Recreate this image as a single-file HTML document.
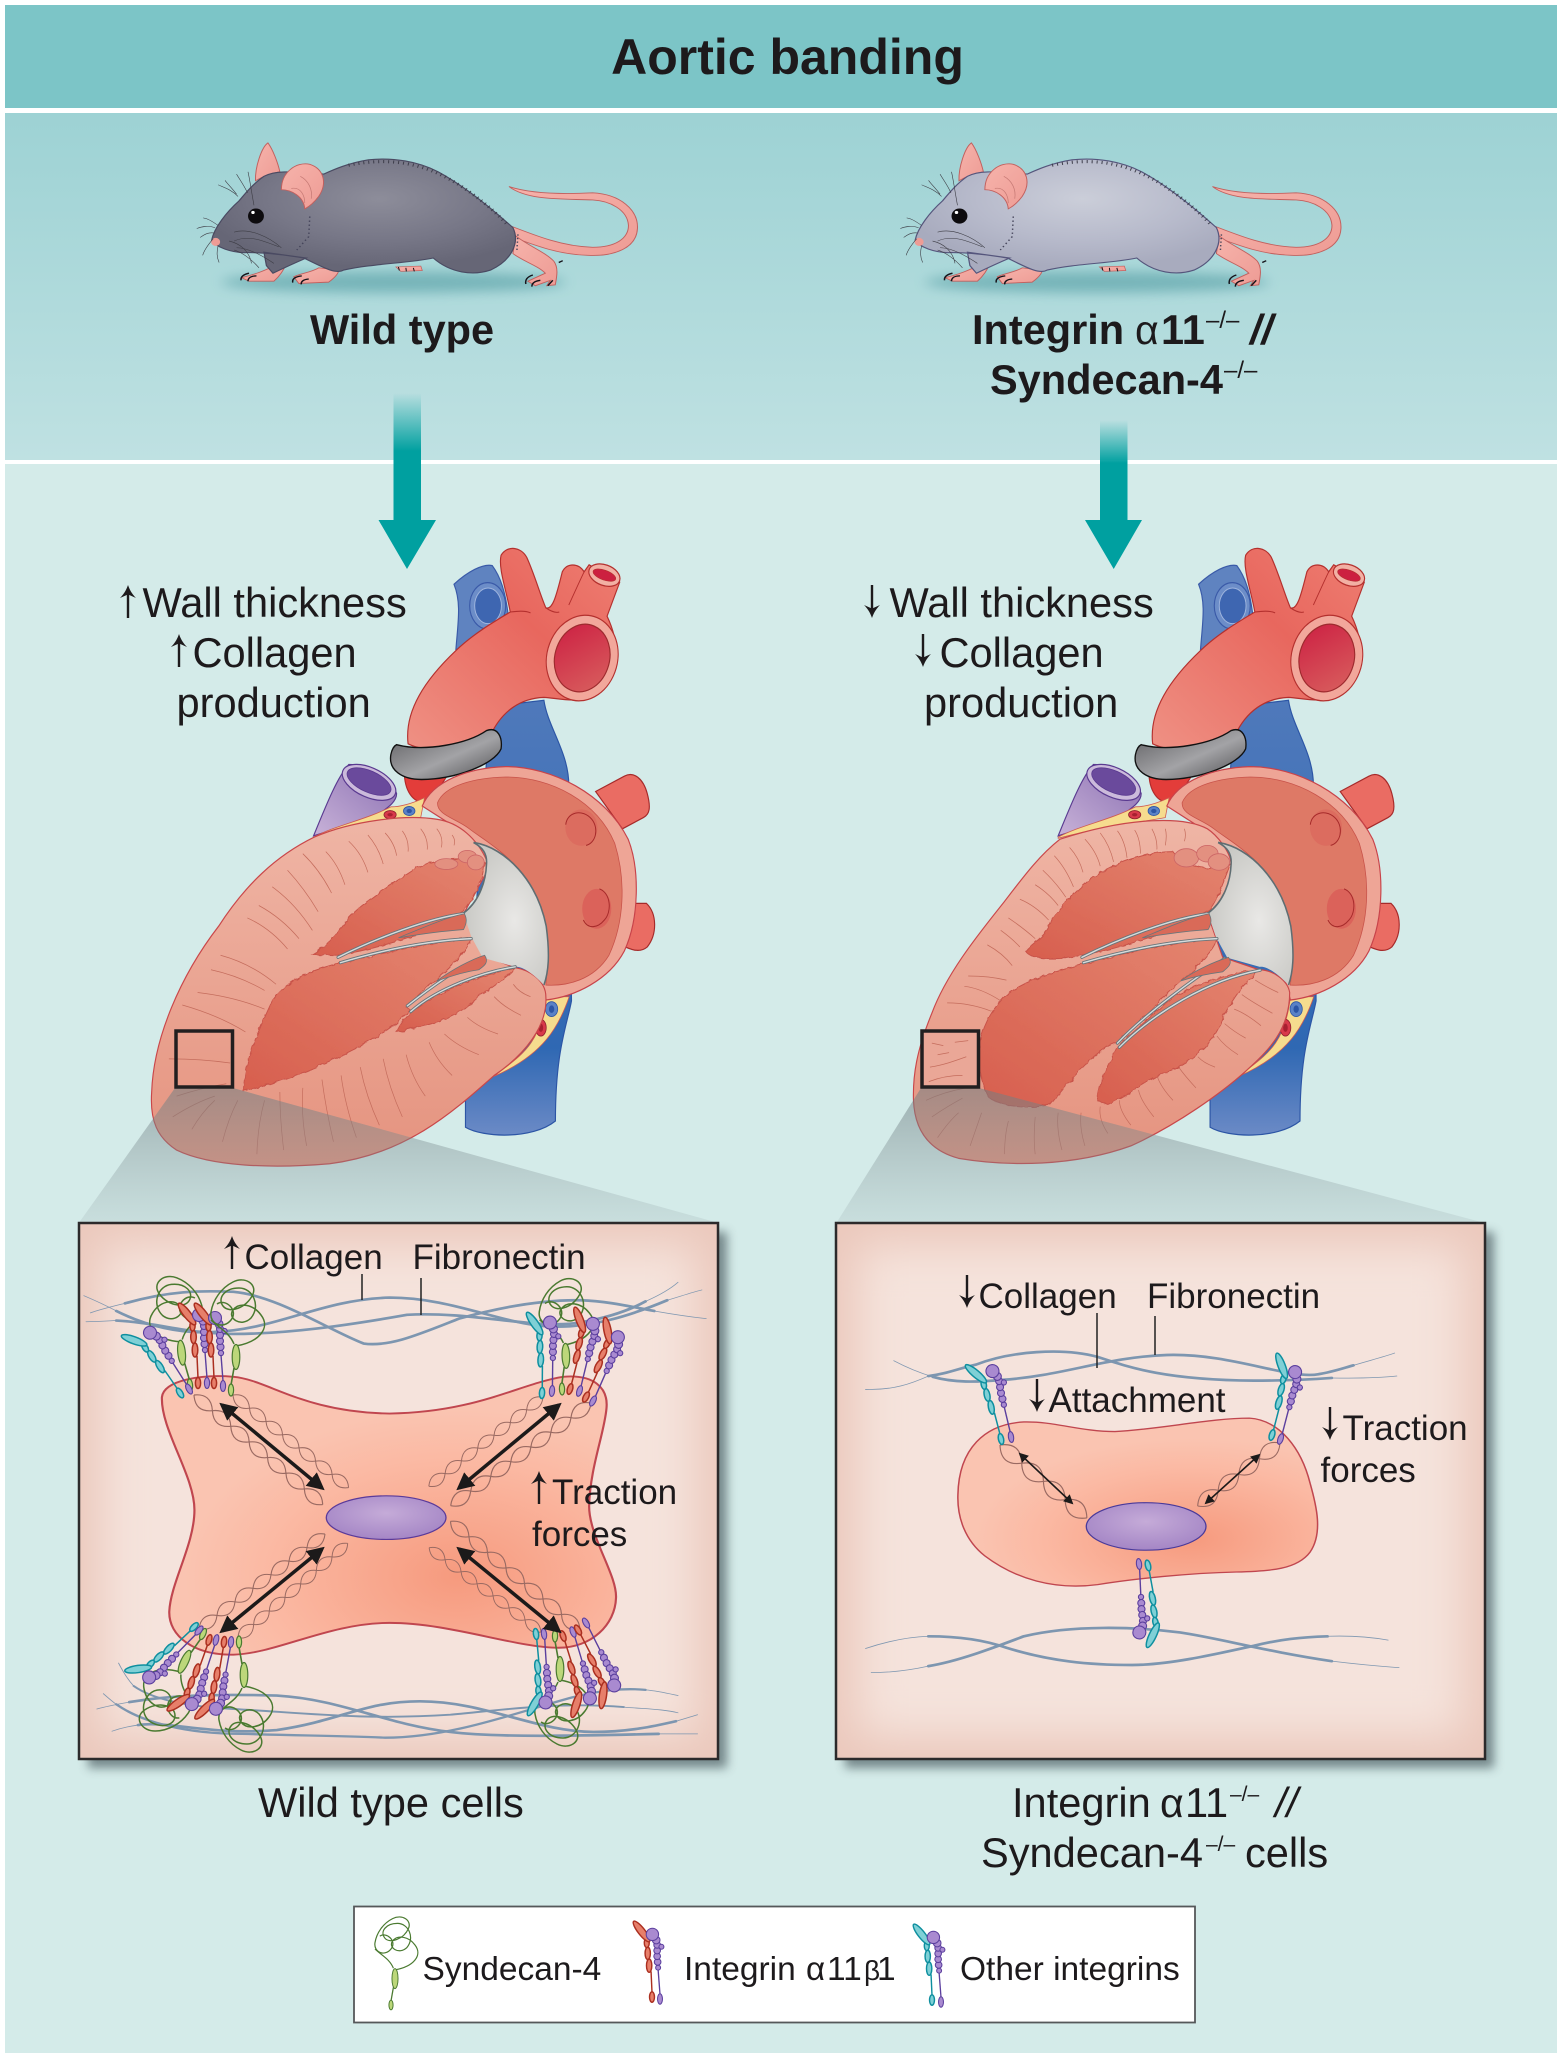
<!DOCTYPE html>
<html><head><meta charset="utf-8"><title>Aortic banding</title>
<style>
html,body{margin:0;padding:0;background:#fff}
svg{display:block}
text{font-family:"Liberation Sans",Arial,sans-serif;fill:#1d1a1c}
.b{font-weight:bold;font-size:41.5px}
.m{font-size:41.6px}
.p{font-size:35px}
.l{font-size:33.5px}
.ab{fill:#e77f6a;stroke:#ab2f20}
.at{fill:#7fd0d6;stroke:#0e8f9f}
.ap{fill:#a98ad0;stroke:#5b3f9e}
.sg{fill:#bcd77a;stroke:#4a7a30}
.fb{fill:none;stroke:#7d96b0;stroke-linecap:round}
.tw{fill:none;stroke:#9a6a62;stroke-width:1.1}
</style></head><body>
<svg xmlns="http://www.w3.org/2000/svg" width="1562" height="2060" viewBox="0 0 1562 2060">
<defs>
<linearGradient id="band2" x1="0" y1="0" x2="0" y2="1"><stop offset="0" stop-color="#9dd2d4"/><stop offset="1" stop-color="#bfe1e2"/></linearGradient>
<linearGradient id="arr1" x1="0" y1="0" x2="0" y2="1"><stop offset="0" stop-color="#00a0a0" stop-opacity="0"/><stop offset="1" stop-color="#00a0a0"/></linearGradient>
<radialGradient id="m1" cx=".55" cy=".35" r=".6"><stop offset="0" stop-color="#8d8d9a"/><stop offset=".6" stop-color="#777787"/><stop offset="1" stop-color="#666676"/></radialGradient>
<radialGradient id="m2" cx=".55" cy=".35" r=".6"><stop offset="0" stop-color="#cbced9"/><stop offset=".6" stop-color="#b7bacb"/><stop offset="1" stop-color="#a8abbe"/></radialGradient>
<linearGradient id="pk" x1="0" y1="0" x2="1" y2="1"><stop offset="0" stop-color="#f6b3ab"/><stop offset="1" stop-color="#ee9c95"/></linearGradient>
<linearGradient id="ao" x1="0" y1="1" x2="1" y2="0"><stop offset="0" stop-color="#ef9184"/><stop offset=".6" stop-color="#e8675e"/><stop offset="1" stop-color="#ee7e72"/></linearGradient>
<linearGradient id="aoi" x1="0" y1="0" x2="1" y2="1"><stop offset="0" stop-color="#cc1e42"/><stop offset="1" stop-color="#d9625f"/></linearGradient>
<linearGradient id="bl" x1="0" y1="0" x2="0" y2="1"><stop offset="0" stop-color="#4f79bb"/><stop offset=".8" stop-color="#2f68b3"/><stop offset="1" stop-color="#6b8ac6"/></linearGradient>
<linearGradient id="bd" x1="0" y1="0" x2="1" y2="1"><stop offset="0" stop-color="#5d5d60"/><stop offset=".55" stop-color="#a3a3a6"/><stop offset="1" stop-color="#4d4d50"/></linearGradient>
<linearGradient id="pur" x1="0" y1="1" x2="1" y2="0"><stop offset="0" stop-color="#c8b2d8"/><stop offset="1" stop-color="#8a6fb2"/></linearGradient>
<linearGradient id="wall" x1="0" y1="0" x2="0" y2="1"><stop offset="0" stop-color="#efb5a5"/><stop offset="1" stop-color="#e5937f"/></linearGradient>
<linearGradient id="cav" x1="0" y1="1" x2="1" y2="0"><stop offset="0" stop-color="#d75f4e"/><stop offset="1" stop-color="#e4846f"/></linearGradient>
<radialGradient id="vlv" cx=".6" cy=".55" r=".6"><stop offset="0" stop-color="#e9e8e6"/><stop offset="1" stop-color="#c9c9c5"/></radialGradient>
<linearGradient id="wedge" x1="0" y1="0" x2="0" y2="1"><stop offset="0" stop-color="#6f7e82" stop-opacity=".55"/><stop offset="1" stop-color="#8a9a9e" stop-opacity=".16"/></linearGradient>
<radialGradient id="cell" cx=".65" cy=".72" r=".6"><stop offset="0" stop-color="#f69a7e"/><stop offset=".7" stop-color="#fbb9a3"/><stop offset="1" stop-color="#fac4b1"/></radialGradient>
<radialGradient id="nuc" cx=".5" cy=".4" r=".65"><stop offset="0" stop-color="#c5abd8"/><stop offset="1" stop-color="#a283c4"/></radialGradient>
<filter id="b3" x="-20%" y="-150%" width="140%" height="400%"><feGaussianBlur stdDeviation="13"/></filter>
<filter id="b8" x="-10%" y="-10%" width="120%" height="120%"><feGaussianBlur stdDeviation="22"/></filter>
<filter id="b6" x="-5%" y="-5%" width="110%" height="110%"><feGaussianBlur stdDeviation="5"/></filter>
<filter id="rough" x="-5%" y="-5%" width="110%" height="110%"><feTurbulence type="fractalNoise" baseFrequency=".06" numOctaves="2" seed="4"/><feDisplacementMap in="SourceGraphic" scale="9"/></filter>
<clipPath id="cpL"><rect x="79" y="1223" width="639" height="536"/></clipPath>
<clipPath id="cpR"><rect x="836" y="1223" width="649" height="536"/></clipPath>
<marker id="ah" viewBox="0 0 10 10" refX="8" refY="5" markerWidth="5" markerHeight="5" orient="auto-start-reverse"><path d="M0,0 L10,5 L0,10 Z" fill="#1c1a1a"/></marker>
<marker id="ah2" viewBox="0 0 10 10" refX="8" refY="5" markerWidth="6" markerHeight="6" orient="auto-start-reverse"><path d="M0,0 L10,5 L0,10 Z" fill="#1c1a1a"/></marker>

<!-- text arrows -->
<g id="up"><path d="M0,0 V-28" stroke="#1d1a1c" stroke-width="2.4" fill="none"/><path d="M0,-33 C-2,-27 -5,-23 -8,-20 L-1.3,-23 H1.3 L8,-20 C5,-23 2,-27 0,-33Z" fill="#1d1a1c"/></g>
<g id="dn"><path d="M0,-33 V-5" stroke="#1d1a1c" stroke-width="2.4" fill="none"/><path d="M0,0 C-2,-6 -5,-10 -8,-13 L-1.3,-10 H1.3 L8,-13 C5,-10 2,-6 0,0Z" fill="#1d1a1c"/></g>

<!-- integrin alpha -->
<g id="ia" stroke-width="1.5">
<path d="M0,-5 L-1,-27" fill="none"/>
<ellipse cx="0" cy="0" rx="2.6" ry="5.5"/>
<ellipse cx="-3" cy="-33" rx="2.8" ry="7"/>
<ellipse cx="-4.5" cy="-46" rx="2.8" ry="6.5"/>
<ellipse cx="-5.5" cy="-57" rx="2.6" ry="5"/>
<ellipse cx="-11" cy="-69" rx="3.6" ry="13.5" transform="rotate(-38 -11 -69)"/>
</g>
<!-- integrin beta -->
<g id="ib" stroke-width="1.1">
<path d="M0,-5 L-2,-31" fill="none" stroke-width="1.4"/>
<ellipse cx="0" cy="0" rx="2.6" ry="5.5"/>
<circle cx="-2" cy="-33" r="2.6"/><circle cx="-2.5" cy="-39" r="3.5"/><circle cx="-3" cy="-45" r="3.5"/><circle cx="-3" cy="-51" r="3.5"/><circle cx="-3" cy="-57" r="3.5"/><circle cx="1.5" cy="-55" r="2.6"/><circle cx="-4" cy="-62" r="4"/>
<circle cx="-8" cy="-68" r="6.5"/>
</g>
<!-- syndecan -->
<g id="sy">
<path d="M5,-44 C28,-48 40,-62 30,-75 C22,-86 8,-88 2,-80 C-4,-72 10,-62 20,-72 C30,-84 22,-102 8,-102 C-6,-102 -14,-92 -8,-84 C-2,-76 16,-82 22,-96 C26,-106 14,-114 2,-108 C-10,-102 -18,-90 -20,-78 C-22,-66 -8,-60 0,-70 C8,-80 -6,-92 -14,-86 M3,-46 C-2,-58 -12,-62 -20,-70" fill="none" stroke="#4a7a30" stroke-width="1.5"/>
<path d="M0,-5 L3,-22" fill="none" stroke="#4a7a30" stroke-width="1.6"/>
<ellipse cx="0" cy="0" rx="2.6" ry="6" class="sg" stroke-width="1.2"/>
<ellipse cx="5" cy="-33" rx="3.8" ry="12.5" class="sg" stroke-width="1.2"/>
</g>
<!-- twisted strand, 161 long -->
<g id="tw" class="tw">
<path d="M0,0 q11.500,-12 23,0 t23,0 t23,0 t23,0 t23,0 t23,0 t23,0"/>
<path d="M0,0 q11.500,12 23,0 t23,0 t23,0 t23,0 t23,0 t23,0 t23,0"/>
</g>
<g id="tw2" class="tw">
<path d="M0,0 q13.500,-15 27,0 t27,0 t27,0 t27,0"/>
<path d="M0,0 q13.500,15 27,0 t27,0 t27,0 t27,0"/>
</g>

<!-- mouse pieces (zoom coordinates) -->
<path id="mbody" d="M425,538 C430,510 455,475 480,450 C495,430 510,410 530,395 C555,380 590,385 650,390 C670,380 700,365 740,358 C790,352 840,362 880,385 C930,415 985,465 1030,510 C1045,545 1025,585 985,605 C950,618 905,612 870,578 C820,590 750,590 690,605 C675,615 650,600 610,578 C580,572 530,565 490,566 C465,565 435,555 425,538Z M530,565 L615,578 C590,590 565,603 548,612 L535,595Z"/>
<g id="mfix">
<ellipse cx="790" cy="632" rx="345" ry="24" fill="#6daeb3" opacity=".85" filter="url(#b3)"/>
<path d="M1018,503 C1080,530 1130,552 1190,554 C1235,554 1262,535 1262,505 C1260,470 1225,450 1190,448 C1130,445 1060,450 1022,418 C1060,432 1120,436 1190,432 C1245,435 1282,470 1280,512 C1278,555 1235,575 1180,572 C1120,570 1075,550 1014,525Z" fill="url(#pk)" stroke="#c2605e" stroke-width="2"/>
<path d="M1035,528 C1060,550 1095,565 1112,585 C1122,600 1118,620 1115,638 L1098,640 L1105,628 L1075,640 L1060,630 L1095,612 C1080,595 1050,585 1030,568Z" fill="url(#pk)" stroke="#c2605e" stroke-width="2"/>
<path d="M795,598 L845,596 L848,606 L805,608Z" fill="url(#pk)" stroke="#c2605e" stroke-width="1.5"/>
<path d="M513,405 C512,375 525,330 538,320 C548,335 558,365 562,385 C545,388 528,395 513,405Z" fill="url(#pk)" stroke="#c2605e" stroke-width="2"/>
<path d="M560,590 C530,608 510,615 485,622 L500,630 L550,630 C560,620 570,605 575,590Z" fill="url(#pk)" stroke="#c2605e" stroke-width="2"/>
<path d="M640,600 C625,610 605,612 590,620 L600,635 L660,632 C672,622 680,612 680,605Z" fill="url(#pk)" stroke="#c2605e" stroke-width="2"/>
</g>
<g id="mdet">
<path d="M565,425 C565,385 595,362 622,368 C650,378 658,410 640,440 C630,455 622,462 612,468 C610,440 585,425 565,425Z" fill="url(#pk)" stroke="#c2605e" stroke-width="2"/>
<path d="M585,422 C605,418 612,440 612,455 M603,395 C620,405 628,425 625,445" fill="none" stroke="#c77a75" stroke-width="1.5"/>
<ellipse cx="514" cy="484" rx="16" ry="17" fill="#0d0b0e"/><circle cx="508" cy="476" r="3.5" fill="#fff"/>
<circle cx="433" cy="542" r="9" fill="#ee9c95"/>
<path d="M700,370 C790,350 860,368 930,420 C970,450 1000,480 1020,505" fill="none" stroke="#3d3d4a" stroke-width="7" stroke-dasharray="2 8"/>
<path d="M622,485 L620,530 L596,560" fill="none" stroke="#44445a" stroke-width="3" stroke-dasharray="3 6"/>
<path d="M1040,525 L1038,560" fill="none" stroke="#44445a" stroke-width="3" stroke-dasharray="3 5"/>
<g fill="none" stroke="#3c3c44" stroke-width="1.2">
<path d="M478,440 C465,425 450,420 438,414 M475,435 C465,420 455,410 452,404 M497,432 C490,415 480,400 475,390 M510,460 C505,430 502,405 498,385"/>
<path d="M438,505 C425,495 418,490 408,488 M432,510 C420,505 405,507 395,512 M430,522 C420,520 410,525 402,532 M428,535 C418,548 410,560 407,572"/>
<path d="M470,520 C500,510 540,530 565,555 M470,540 C500,525 530,540 560,553 M460,540 C480,545 500,560 505,590 M475,555 C500,555 530,575 550,590 M470,560 C485,565 505,580 520,600 M438,550 C435,565 435,575 440,588"/>
</g>
<g fill="none" stroke="#15131a" stroke-width="3">
<path d="M500,612 C488,615 483,620 484,628 M515,618 C505,618 498,622 498,630 M606,618 C592,620 586,625 588,633 M620,625 C610,626 604,630 605,637 M1070,616 C1058,620 1054,628 1056,636 M1085,628 C1072,630 1068,635 1068,642 M1122,588 L1130,584 M1110,628 L1100,640"/>
<path d="M800,598 L802,606 M815,600 L816,608 M830,600 L832,608" stroke-width="2"/>
</g>
</g>

<!-- heart common -->
<g id="hc">
<path d="M1020,450 L1160,435 C1170,500 1225,560 1225,640 L1232,1160 C1220,1220 1190,1280 1190,1450 C1130,1495 1000,1490 955,1465 L955,1300 Z" fill="url(#bl)" stroke="#2c55a5" stroke-width="3"/>
<path d="M925,155 C960,125 1000,105 1025,110 C1045,135 1060,170 1068,240 L1040,290 L930,312 C935,250 945,200 925,155Z" fill="#5f83c0" stroke="#3a5aa8" stroke-width="3"/>
<ellipse cx="1013" cy="207" rx="47" ry="56" fill="#6c8dc8" stroke="#3a5aa8" stroke-width="3"/>
<ellipse cx="1014" cy="207" rx="35" ry="43" fill="#3e66b1" stroke="#9fb5de" stroke-width="2.5"/>
<!-- aorta -->
<path d="M795,605 C795,650 815,688 862,682 L905,620Z" fill="#e33d3a" stroke="#b22a2a" stroke-width="3"/>
<path d="M805,540 C795,460 850,385 930,315 C975,275 1030,245 1072,222 C1062,170 1040,115 1048,85 C1065,60 1100,65 1115,90 C1135,130 1150,180 1165,212 C1182,218 1192,185 1208,125 C1220,103 1250,103 1265,125 L1278,108 L1358,150 L1325,232 C1360,300 1360,380 1300,420 C1250,445 1200,430 1160,428 C1100,430 1050,460 1020,520 C960,555 860,565 805,540Z" fill="url(#ao)" stroke="#b4302e" stroke-width="3"/>
<path d="M1265,125 C1252,150 1240,175 1225,205" fill="none" stroke="#b4302e" stroke-width="2.5"/>
<path d="M1072,222 C1090,220 1110,218 1125,224 M1165,212 C1178,220 1190,225 1200,222" fill="none" stroke="#b4302e" stroke-width="2.5"/>
<ellipse cx="1318" cy="133" rx="42" ry="25" transform="rotate(18 1318 133)" fill="#f2b0a4" stroke="#b4302e" stroke-width="3"/>
<ellipse cx="1318" cy="133" rx="31" ry="12" transform="rotate(18 1318 133)" fill="#cc2040" stroke="#b4302e" stroke-width="1.5"/>
<ellipse cx="1260" cy="333" rx="92" ry="105" transform="rotate(22 1260 333)" fill="#f2a79b" stroke="#b4302e" stroke-width="3"/>
<ellipse cx="1260" cy="333" rx="71" ry="83" transform="rotate(22 1260 333)" fill="url(#aoi)" stroke="#9e2a2e" stroke-width="3"/>
<!-- band -->
<path d="M775,542 C850,560 960,540 1010,508 C1040,498 1052,525 1048,552 C1030,590 930,625 840,626 C790,626 753,604 760,566 C763,552 768,545 775,542Z" fill="url(#bd)" stroke="#111" stroke-width="3.5"/>
<!-- purple pulmonary -->
<path d="M558,762 C590,690 620,620 650,590 C700,590 760,620 775,660 C775,680 750,695 735,705 L600,750Z" fill="url(#pur)" stroke="#5a3a90" stroke-width="3"/>
<ellipse cx="703" cy="633" rx="74" ry="36" transform="rotate(22 703 633)" fill="#cbbadb" stroke="#5a3a90" stroke-width="3"/>
<ellipse cx="703" cy="631" rx="61" ry="26" transform="rotate(22 703 631)" fill="#6a4a9c" stroke="#5a3a90" stroke-width="2"/>
<!-- veins -->
<path d="M1295,655 L1370,618 C1395,605 1420,625 1430,660 C1440,695 1436,710 1420,718 L1365,745Z" fill="#ea6c63" stroke="#a62a2a" stroke-width="3"/>
<path d="M1385,925 L1428,925 C1456,950 1456,1000 1430,1030 C1410,1046 1385,1036 1360,1025Z" fill="#ea6c63" stroke="#a62a2a" stroke-width="3"/>
<!-- fat -->
<path d="M558,765 C620,735 690,725 760,692 C790,692 820,682 848,670 L838,718 C780,728 680,738 558,768Z" fill="#f6dc8e" stroke="#cf5a52" stroke-width="2"/>
<ellipse cx="758" cy="711" rx="16" ry="10" fill="#d8394a" stroke="#8e1f2c" stroke-width="2"/><ellipse cx="758" cy="711" rx="7" ry="4" fill="#a82030"/>
<ellipse cx="808" cy="702" rx="15" ry="11" fill="#5a82c6" stroke="#2c55a5" stroke-width="2"/><ellipse cx="808" cy="702" rx="7" ry="5" fill="#2c55a5"/>
<path d="M1030,1342 C1100,1290 1150,1270 1165,1150 L1226,1150 C1200,1220 1160,1290 1030,1342Z" fill="#f6dc8e" stroke="#cf5a52" stroke-width="2"/>
<ellipse cx="1180" cy="1180" rx="16" ry="18" fill="#5a82c6" stroke="#2c55a5" stroke-width="2"/><ellipse cx="1180" cy="1180" rx="7" ry="9" fill="#2c55a5"/>
<ellipse cx="1152" cy="1225" rx="14" ry="20" fill="#d8394a" stroke="#8e1f2c" stroke-width="2"/><ellipse cx="1152" cy="1225" rx="6" ry="10" fill="#a82030"/>
<!-- atrium -->
<path d="M842,690 C870,630 960,598 1060,595 C1180,595 1320,660 1380,770 C1410,840 1410,960 1370,1040 C1330,1110 1240,1150 1165,1158 L1120,1000 L960,760Z" fill="#eea596" stroke="#c8434a" stroke-width="3"/>
<path d="M882,682 C900,640 980,622 1060,620 C1180,620 1300,680 1345,780 C1375,870 1370,970 1330,1050 C1290,1110 1220,1125 1165,1122 C1175,1030 1170,940 1110,860 C1060,800 1000,770 965,745 C930,720 880,712 882,682Z" fill="#de7966" stroke="#c8534a" stroke-width="2"/>
<ellipse cx="1258" cy="742" rx="42" ry="44" fill="#d95f57" opacity=".5"/>
<path d="M1217,735 C1220,705 1260,695 1285,722 C1305,745 1295,780 1270,785" fill="none" stroke="#a62a2a" stroke-width="2.5"/>
<ellipse cx="1298" cy="938" rx="38" ry="48" fill="#d95050" opacity=".55"/>
<path d="M1305,890 C1335,900 1338,945 1318,965 C1300,985 1275,988 1263,965" fill="none" stroke="#a62a2a" stroke-width="2.5"/>
</g>
<g id="hv">
<path d="M976,778 C1060,790 1142,870 1166,980 C1176,1050 1172,1090 1160,1122 C1130,1092 1100,1075 1085,1078 L1000,1056 L970,1005 L950,950 C990,920 1010,870 1010,825 C1010,802 995,788 976,778Z" fill="url(#vlv)"/>
<path d="M976,778 C1060,790 1142,870 1166,980 C1176,1050 1172,1090 1160,1122" fill="none" stroke="#5f6d72" stroke-width="4"/>
<path d="M976,778 C1000,790 1012,805 1010,830 C1008,880 985,925 950,948" fill="none" stroke="#5f6d72" stroke-width="4"/>
</g>
</defs>

<!-- bands -->
<rect width="1562" height="2060" fill="#fff"/>
<rect x="5" y="5" width="1552" height="103" fill="#7cc5c7"/>
<rect x="5" y="113" width="1552" height="347" fill="url(#band2)"/>
<rect x="5" y="464" width="1552" height="1589" fill="#d4ebe9"/>

<text x="787.5" y="74" text-anchor="middle" font-weight="bold" font-size="50">Aortic banding</text>

<!-- left mouse -->
<g transform="scale(.498,.4464)">
<use href="#mfix"/>
<use href="#mbody" fill="url(#m1)" stroke="#4a4a62" stroke-width="2.5"/>
<use href="#mdet"/>
</g>
<!-- right mouse -->
<g transform="translate(703.5,0) scale(.498,.4464)">
<use href="#mfix"/>
<use href="#mbody" fill="url(#m2)" stroke="#55557c" stroke-width="2.5"/>
<use href="#mdet"/>
</g>

<text class="b" x="310" y="344">Wild type</text>
<text class="b" x="972" y="344">Integrin</text>
<text x="1135" y="344" font-size="41" font-family="Liberation Serif">α</text>
<text class="b" x="1161" y="344">11</text>
<text x="1206" y="328" font-size="24">–/–</text>
<text class="b" x="1250" y="344" font-style="italic">//</text>
<text class="b" x="990" y="394">Syndecan-4</text>
<text x="1224" y="378" font-size="24">–/–</text>

<!-- teal arrows -->
<rect x="393.5" y="393" width="27.5" height="58" fill="url(#arr1)"/>
<path d="M393.5,451 H421 V520 H436 L407,569 L378.5,520 H393.5Z" fill="#00a0a0"/>
<rect x="1100" y="420" width="27.5" height="43" fill="url(#arr1)"/>
<path d="M1100,463 H1127.500 V520 H1142 L1113.700,569 L1085,520 H1100Z" fill="#00a0a0"/>

<!-- side texts -->
<use href="#up" x="128" y="618"/><text class="m" x="142.500" y="617">Wall thickness</text>
<use href="#up" x="179" y="667"/><text class="m" x="192.500" y="667">Collagen</text>
<text class="m" x="176.500" y="717">production</text>
<use href="#dn" x="872" y="618"/><text class="m" x="889.500" y="617">Wall thickness</text>
<use href="#dn" x="923" y="667"/><text class="m" x="939.500" y="667">Collagen</text>
<text class="m" x="924" y="717">production</text>

<!-- LEFT HEART -->
<g transform="translate(100,520) scale(.3827,.4145)">
<use href="#hc"/>
<path d="M560,765 C660,725 800,710 880,722 C940,730 985,770 1010,820 L1010,850 L950,950 L1000,1050 L1085,1080 C1120,1085 1165,1110 1165,1150 C1170,1220 1110,1290 1030,1340 C920,1430 800,1530 600,1553 C450,1565 290,1560 200,1520 C150,1490 130,1450 135,1380 C140,1250 210,1100 310,980 C380,880 460,810 560,765Z" fill="url(#wall)" stroke="#c9474a" stroke-width="3"/>
<path fill="none" stroke="#c46c5c" stroke-width="1.8" d="M590,800Q622,830 640,880 M650,775Q685,805 700,850 M700,760Q728,790 740,830 M745,755Q770,780 775,810 M790,750Q808,772 805,800 M838,745Q858,768 855,795 M880,745Q898,765 892,790 M920,760Q930,772 925,785 M530,805Q575,845 605,900 M490,845Q535,890 570,945 M450,885Q510,925 555,990 M415,930Q475,960 520,1010 M385,960Q445,985 490,1035 M315,1050Q395,1070 460,1120 M290,1085Q365,1100 430,1135 M255,1140Q350,1150 430,1180 M215,1170Q310,1195 380,1235 M180,1300Q265,1300 340,1310 M200,1390Q265,1370 330,1360 M190,1440Q250,1405 300,1390 M240,1470Q265,1430 300,1400 M320,1500Q335,1445 360,1400 M410,1530Q412,1460 430,1400 M480,1520Q470,1445 470,1380 M540,1510Q525,1440 530,1370 M610,1500Q590,1420 580,1350 M670,1490Q640,1410 630,1340 M730,1460Q695,1390 680,1320 M790,1440Q755,1370 740,1300 M850,1390Q815,1345 800,1290 M920,1340Q880,1305 860,1260 M990,1290Q935,1270 900,1240 M1040,1240Q990,1225 960,1200 M1100,1195Q1055,1175 1030,1150 M1125,1150Q1095,1140 1080,1120"/>
<g filter="url(#rough)" stroke="#c8534a" stroke-width="2.5">
<path d="M555,1048 C590,1030 620,1000 650,960 C690,920 760,880 830,838 C880,815 960,812 1005,825 C1000,880 970,920 950,945 C880,985 760,1030 620,1050Z" fill="url(#cav)"/>
<path d="M375,1372 C380,1300 410,1240 450,1160 C490,1110 540,1090 620,1070 C720,1050 850,1020 970,1008 C960,1040 920,1080 850,1130 L800,1175 L810,1180 C760,1240 640,1290 540,1330 C480,1350 420,1370 375,1378Z" fill="url(#cav)"/>
<path d="M775,1235 C800,1180 900,1120 1085,1080 C1060,1110 1000,1140 950,1180 C890,1215 830,1225 775,1235Z" fill="url(#cav)"/>
</g>
<use href="#hv"/>
<ellipse cx="905" cy="830" rx="30" ry="13" fill="#e39080" stroke="#c66" stroke-width="2"/>
<ellipse cx="960" cy="812" rx="24" ry="15" fill="#e39080" stroke="#c66" stroke-width="2"/>
<ellipse cx="982" cy="826" rx="22" ry="18" fill="#e39080" stroke="#c66" stroke-width="2"/>
<g fill="none" stroke="#69757a" stroke-width="8" stroke-linecap="round">
<path d="M622,1055 C720,1010 860,960 950,950"/><path d="M628,1068 C730,1040 850,1015 970,1010"/>
<path d="M803,1172 C860,1130 950,1070 1000,1055"/><path d="M812,1186 C880,1130 1000,1090 1085,1078"/>
</g>
<g fill="none" stroke="#d6dbdb" stroke-width="3.500" stroke-linecap="round">
<path d="M622,1055 C720,1010 860,960 950,950"/><path d="M628,1068 C730,1040 850,1015 970,1010"/>
<path d="M803,1172 C860,1130 950,1070 1000,1055"/><path d="M812,1186 C880,1130 1000,1090 1085,1078"/>
</g>
<path d="M780,1008 C840,985 900,960 952,950 C962,965 955,978 950,988 C890,992 830,1000 780,1008Z" fill="#d96a58" stroke="#69757a" stroke-width="2"/>
<path d="M880,1112 C920,1085 970,1060 1005,1050 C1018,1068 1003,1076 990,1085 C950,1090 920,1100 880,1112Z" fill="#d96a58" stroke="#69757a" stroke-width="2"/>
</g>

<!-- RIGHT HEART -->
<g transform="translate(840,520) scale(.3827,.4145)">
<use href="#hc" transform="translate(12,0)"/>
<path d="M575,770 C520,810 480,860 430,920 C370,990 280,1090 240,1190 C200,1280 190,1340 192,1400 C195,1470 230,1520 310,1540 C440,1560 610,1560 760,1510 C880,1460 1000,1380 1060,1330 C1120,1280 1175,1230 1175,1140 C1170,1110 1130,1085 1095,1085 L1000,1055 L960,950 C1000,920 1020,880 1022,830 C1020,800 985,760 960,745 C900,715 760,715 575,770Z" fill="url(#wall)" stroke="#c9474a" stroke-width="3"/>
<path fill="none" stroke="#c46c5c" stroke-width="1.8" d="M600,790Q625,815 635,850 M640,770Q670,800 680,835 M680,755Q705,785 715,825 M725,750Q745,775 750,815 M770,748Q785,770 785,805 M815,745Q830,770 828,795 M850,745Q855,760 850,785 M900,745Q905,760 900,775 M560,810Q590,840 610,885 M530,845Q565,875 590,910 M510,880Q545,900 570,930 M470,915Q510,930 545,965 M440,960Q480,985 510,1010 M420,990Q450,1010 470,1030 M385,1025Q425,1045 450,1075 M335,1100Q390,1100 435,1110 M325,1125Q370,1130 420,1160 M280,1165Q340,1165 395,1185 M240,1300Q260,1285 290,1280 M225,1400Q270,1380 330,1370 M240,1440Q280,1415 320,1395 M255,1490Q285,1450 310,1430 M340,1510Q355,1470 370,1430 M430,1530Q430,1485 440,1450 M510,1530Q505,1490 510,1440 M580,1520Q565,1470 570,1430 M640,1510Q625,1465 630,1430 M700,1480Q675,1445 680,1415 M760,1460Q730,1425 730,1400 M820,1440Q785,1400 780,1375 M870,1400Q840,1370 830,1345 M930,1370Q900,1340 885,1320 M980,1320Q950,1310 935,1295 M1040,1290Q1005,1270 985,1245 M1060,1250Q1030,1235 1005,1215 M1100,1220Q1060,1190 1030,1180 M1130,1190Q1080,1165 1050,1145 M1145,1140Q1110,1125 1085,1110"/>
<g filter="url(#rough)" stroke="#c8534a" stroke-width="2.5">
<path d="M485,1040 C500,1020 540,1010 555,960 C590,920 630,880 680,850 C760,810 830,800 870,800 C900,840 980,850 1020,830 C1000,880 980,930 960,945 C880,985 760,1030 630,1050 C590,1060 500,1065 485,1040Z" fill="url(#cav)"/>
<path d="M365,1260 C380,1200 410,1170 430,1150 C480,1110 560,1090 640,1070 C720,1050 850,1020 985,1008 C980,1040 920,1090 870,1130 L725,1260 C680,1270 620,1330 550,1410 C500,1420 440,1420 390,1395 C370,1360 355,1310 365,1260Z" fill="url(#cav)"/>
<path d="M672,1400 C680,1340 710,1300 725,1270 L870,1150 C950,1110 1040,1090 1100,1085 C1060,1110 1030,1150 1000,1200 C980,1260 930,1300 860,1330 C800,1350 750,1390 700,1410Z" fill="url(#cav)"/>
</g>
<use href="#hv" transform="translate(12,0)"/>
<ellipse cx="905" cy="815" rx="32" ry="22" fill="#e39080" stroke="#c66" stroke-width="2"/>
<ellipse cx="960" cy="805" rx="28" ry="20" fill="#e39080" stroke="#c66" stroke-width="2"/>
<ellipse cx="990" cy="825" rx="28" ry="20" fill="#e39080" stroke="#c66" stroke-width="2"/>
<g fill="none" stroke="#69757a" stroke-width="8" stroke-linecap="round">
<path d="M632,1055 C730,1010 870,960 962,950"/><path d="M636,1068 C740,1040 860,1015 985,1010"/>
<path d="M725,1262 C800,1190 920,1110 1005,1058"/><path d="M730,1272 C820,1190 960,1110 1098,1086"/>
</g>
<g fill="none" stroke="#d6dbdb" stroke-width="3.500" stroke-linecap="round">
<path d="M632,1055 C730,1010 870,960 962,950"/><path d="M636,1068 C740,1040 860,1015 985,1010"/>
<path d="M725,1262 C800,1190 920,1110 1005,1058"/><path d="M730,1272 C820,1190 960,1110 1098,1086"/>
</g>
<path d="M790,1008 C850,985 910,960 964,950 C974,965 968,978 962,988 C900,992 840,1000 790,1008Z" fill="#d96a58" stroke="#69757a" stroke-width="2"/>
<path d="M890,1112 C930,1085 980,1065 1015,1055 C1028,1070 1013,1080 1000,1090 C960,1095 930,1100 890,1112Z" fill="#d96a58" stroke="#69757a" stroke-width="2"/>
<rect x="213" y="1232" width="150" height="135" fill="#eaa797"/>
<path d="M240,1262 L270,1268 M300,1260 L335,1256 M235,1320 C270,1315 300,1305 330,1295 M232,1355 C260,1345 290,1340 320,1340 M255,1290 L285,1285" fill="none" stroke="#c46c5c" stroke-width="1.8"/>
</g>

<!-- wedges -->
<polygon points="175,1088 233,1088 715,1222 79.500,1222" fill="url(#wedge)"/>
<polygon points="921,1088 979,1088 1481,1222 837,1222" fill="url(#wedge)"/>
<rect x="176" y="1031" width="56.500" height="56" fill="none" stroke="#221f20" stroke-width="3.500"/>
<rect x="922" y="1031" width="56.500" height="56" fill="none" stroke="#221f20" stroke-width="3.500"/>

<!-- panel shadows -->
<rect x="88" y="1232" width="639" height="536" fill="#5e7174" opacity=".8" filter="url(#b6)"/>
<rect x="845" y="1232" width="649" height="536" fill="#5e7174" opacity=".8" filter="url(#b6)"/>

<!-- LEFT PANEL -->
<g clip-path="url(#cpL)"><rect x="79" y="1223" width="639" height="536" fill="#ebc8bc"/><rect x="100" y="1245" width="597" height="492" fill="#f5e3dc" filter="url(#b8)"/></g>
<rect x="79" y="1223" width="639" height="536" fill="none" stroke="#2c2a2b" stroke-width="2.500"/>

<g transform="translate(60,1200) scale(.4337,.3827)">
<path d="M235,515 C240,470 330,455 400,462 C480,470 560,555 760,558 C960,555 1060,480 1160,462 C1230,455 1265,490 1260,545 C1255,610 1222,700 1220,800 C1220,880 1285,980 1282,1040 C1280,1110 1225,1170 1150,1170 C1050,1170 900,1105 760,1105 C620,1105 500,1185 400,1188 C310,1190 250,1140 252,1075 C255,1000 310,900 310,810 C310,720 232,600 235,515Z" fill="url(#cell)" stroke="#c0464f" stroke-width="5"/>
<ellipse cx="752" cy="830" rx="138" ry="57" fill="url(#nuc)" stroke="#5a3a9a" stroke-width="3"/>
<g class="fb">
<path stroke-width="7" d="M150,270 C250,238 320,236 400,240 C500,250 620,340 700,375 C760,385 830,350 920,310 C1000,285 1100,260 1200,262 C1270,265 1320,280 1370,290"/>
<path stroke-width="2" d="M70,295 C95,285 125,277 150,270 M1370,290 C1410,298 1450,305 1490,310"/>
<path stroke-width="7" d="M130,315 C220,320 300,350 400,350 C520,350 650,330 800,300 C950,290 1100,340 1200,320 C1260,308 1310,290 1350,265"/>
<path stroke-width="2" d="M60,318 C85,318 110,316 130,315 M1350,265 C1380,250 1405,235 1425,215"/>
<path stroke-width="7" d="M130,290 C200,330 280,350 350,345 C500,340 600,260 760,255 C900,255 1010,320 1120,330 C1220,338 1320,300 1400,262"/>
<path stroke-width="2" d="M55,250 C80,262 105,275 130,290 M1400,262 C1430,252 1455,242 1480,235"/>
<path stroke-width="7" d="M160,1312 C250,1295 350,1290 500,1295 C650,1305 750,1370 900,1390 C1000,1405 1200,1400 1380,1395"/>
<path stroke-width="2" d="M85,1330 C110,1322 135,1317 160,1312 M1380,1395 C1410,1395 1440,1395 1470,1395"/>
<path stroke-width="7" d="M180,1372 C250,1360 350,1400 500,1385 C650,1360 700,1310 830,1310 C980,1310 1100,1390 1230,1390 C1310,1390 1370,1375 1420,1362"/>
<path stroke-width="2" d="M120,1388 C140,1380 160,1375 180,1372 M1420,1362 C1440,1356 1455,1350 1470,1345"/>
<path stroke-width="6" d="M130,1318 C190,1365 290,1395 420,1395 C580,1400 650,1400 750,1405 C900,1405 1050,1340 1180,1300 C1250,1280 1300,1275 1350,1280"/>
<path stroke-width="2" d="M100,1290 C110,1300 120,1310 130,1318 M1350,1280 C1380,1283 1405,1290 1425,1295"/>
<path stroke-width="5" d="M170,1270 C220,1310 310,1325 400,1330 C560,1340 700,1360 900,1345 C1000,1335 1150,1310 1300,1325"/>
<path stroke-width="2" d="M135,1210 C145,1232 155,1252 170,1270 M1300,1325 C1350,1330 1390,1330 1425,1340"/>
</g>
</g>

<!-- left strands -->
<use href="#tw" transform="translate(194,1395) rotate(40.4) scale(1.05)"/>
<use href="#tw" transform="translate(233,1395) rotate(38.7) scale(.92)"/>
<use href="#tw" transform="translate(543,1397) rotate(142) scale(.90)"/>
<use href="#tw" transform="translate(591,1403) rotate(143.8) scale(1.08)"/>
<use href="#tw" transform="translate(199,1629) rotate(-37) scale(.98)"/>
<use href="#tw" transform="translate(238,1638) rotate(-40.8) scale(.90)"/>
<use href="#tw" transform="translate(541,1632) rotate(-143) scale(.87)"/>
<use href="#tw" transform="translate(580,1630) rotate(-140) scale(1.05)"/>

<!-- left integrins -->
<use href="#sy" transform="translate(190,1385) scale(-1,1) rotate(6)"/>
<use href="#ia" class="at" transform="translate(180,1393) rotate(-32)"/>
<use href="#ib" class="ap" transform="translate(189,1389) rotate(-28)"/>
<use href="#ia" class="ab" transform="translate(198,1383)"/>
<use href="#ib" class="ap" transform="translate(207,1383)"/>
<use href="#ia" class="ab" transform="translate(214,1383)"/>
<use href="#ib" class="ap" transform="translate(223,1386)"/>
<use href="#sy" transform="translate(231,1390)"/>

<use href="#sy" transform="translate(562,1389) rotate(-2)"/>
<use href="#ia" class="at" transform="translate(542,1393) rotate(3)"/>
<use href="#ib" class="ap" transform="translate(552,1391) rotate(5)"/>
<use href="#ia" class="ab" transform="translate(570,1389) rotate(17)"/>
<use href="#ib" class="ap" transform="translate(579.500,1391) rotate(18)"/>
<use href="#ia" class="ab" transform="translate(586,1397) rotate(27)"/>
<use href="#ib" class="ap" transform="translate(593,1401) rotate(28)"/>

<use href="#sy" transform="translate(203,1634) rotate(25) scale(-1,-1) translate(0,0)"/>
<use href="#sy" transform="translate(239,1642) scale(1,-1)"/>
<use href="#ia" class="at" transform="translate(194,1627) rotate(44) scale(1,-1)"/>
<use href="#ib" class="ap" transform="translate(199,1630.500) rotate(40) scale(1,-1)"/>
<use href="#ia" class="ab" transform="translate(209,1640) rotate(17) scale(1,-1)"/>
<use href="#ib" class="ap" transform="translate(216,1640) rotate(14) scale(1,-1)"/>
<use href="#ia" class="ab" transform="translate(224,1642) rotate(7) scale(1,-1)"/>
<use href="#ib" class="ap" transform="translate(231,1642) rotate(6) scale(1,-1)"/>

<use href="#sy" transform="translate(555,1636) scale(1,-1)"/>
<use href="#ia" class="at" transform="translate(536,1634) rotate(-8) scale(1,-1)"/>
<use href="#ib" class="ap" transform="translate(544,1634) rotate(-8) scale(1,-1)"/>
<use href="#ia" class="ab" transform="translate(563,1636) rotate(-20) scale(1,-1)"/>
<use href="#ib" class="ap" transform="translate(573,1632) rotate(-21) scale(1,-1)"/>
<use href="#ia" class="ab" transform="translate(578,1630) rotate(-30) scale(1,-1)"/>
<use href="#ib" class="ap" transform="translate(586,1623) rotate(-31) scale(1,-1)"/>

<!-- left arrows -->
<g stroke="#1c1a1a" stroke-width="3.500" fill="none">
<line x1="222" y1="1405" x2="322" y2="1488" marker-start="url(#ah)" marker-end="url(#ah)"/>
<line x1="559" y1="1405" x2="459" y2="1488" marker-start="url(#ah)" marker-end="url(#ah)"/>
<line x1="222" y1="1631" x2="322" y2="1549" marker-start="url(#ah)" marker-end="url(#ah)"/>
<line x1="559" y1="1631" x2="459" y2="1549" marker-start="url(#ah)" marker-end="url(#ah)"/>
</g>

<!-- left labels -->
<use href="#up" x="232" y="1269"/><text class="p" x="244.500" y="1269">Collagen</text>
<text class="p" x="412.500" y="1269">Fibronectin</text>
<path d="M362,1274 V1300 M421,1278 V1315" stroke="#222" stroke-width="1.5" fill="none"/>
<use href="#up" x="539" y="1504"/><text class="p" x="552" y="1504">Traction</text>
<text class="p" x="532" y="1546">forces</text>

<!-- RIGHT PANEL -->
<g clip-path="url(#cpR)"><rect x="836" y="1223" width="649" height="536" fill="#ebc8bc"/><rect x="857" y="1245" width="607" height="492" fill="#f5e3dc" filter="url(#b8)"/></g>
<rect x="836" y="1223" width="649" height="536" fill="none" stroke="#2c2a2b" stroke-width="2.500"/>
<g transform="translate(820,1200) scale(.4337,.3827)">
<path d="M318,770 C320,650 380,585 470,580 C540,578 600,605 680,605 C780,600 900,570 990,570 C1060,575 1110,650 1130,740 C1145,800 1160,870 1130,920 C1100,965 1040,970 960,972 C850,975 720,990 640,1005 C540,1020 450,990 380,930 C335,890 316,830 318,770Z" fill="url(#cell)" stroke="#c0464f" stroke-width="3.500"/>
<ellipse cx="752" cy="853" rx="138" ry="62" fill="url(#nuc)" stroke="#4a3a9a" stroke-width="3"/>
<g class="fb">
<path stroke-width="7" d="M250,460 C290,455 320,440 360,430 C440,395 560,385 640,410 C720,440 800,470 1000,472 C1060,472 1120,470 1180,465"/>
<path stroke-width="2" d="M105,495 C170,497 210,480 250,460 M1180,465 C1230,466 1290,465 1330,460"/>
<path stroke-width="7" d="M260,462 C310,478 360,476 420,470 C560,460 660,410 800,405 C950,400 1080,470 1150,455 C1180,450 1205,440 1230,432"/>
<path stroke-width="2" d="M170,420 C200,438 230,452 260,462 M1230,432 C1265,420 1300,410 1325,400"/>
<path stroke-width="7" d="M250,1140 C320,1140 380,1150 430,1170 C530,1205 620,1215 720,1215 C800,1215 900,1190 1000,1165 C1060,1148 1110,1142 1170,1140"/>
<path stroke-width="2" d="M105,1172 C150,1155 200,1142 250,1140 M1170,1140 C1220,1138 1270,1142 1310,1150"/>
<path stroke-width="7" d="M250,1218 C320,1205 400,1170 470,1140 C580,1110 730,1115 830,1130 C920,1145 1030,1180 1180,1205"/>
<path stroke-width="2" d="M118,1235 C170,1235 210,1228 250,1218 M1180,1205 C1230,1212 1285,1218 1335,1222"/>
</g>
</g>
<use href="#tw2" transform="translate(1000,1445) rotate(40) scale(1.05)"/>
<use href="#tw2" transform="translate(1280,1443) rotate(142.600) scale(.96)"/>
<use href="#ia" class="at" transform="translate(1001,1439) rotate(-12)"/>
<use href="#ib" class="ap" transform="translate(1011,1437) rotate(-9)"/>
<use href="#ia" class="at" transform="translate(1272,1435) rotate(17)"/>
<use href="#ib" class="ap" transform="translate(1280.500,1439) rotate(19)"/>
<use href="#ib" class="ap" transform="translate(1139,1564) rotate(-7) scale(1,-1)"/>
<use href="#ia" class="at" transform="translate(1148,1565.500) rotate(-13) scale(1,-1)"/>
<line x1="1020" y1="1454" x2="1072" y2="1503" stroke="#1c1a1a" stroke-width="1.6" marker-start="url(#ah2)" marker-end="url(#ah2)"/>
<line x1="1259" y1="1455" x2="1206" y2="1503" stroke="#1c1a1a" stroke-width="1.6" marker-start="url(#ah2)" marker-end="url(#ah2)"/>

<use href="#dn" x="967" y="1308"/><text class="p" x="978.500" y="1308">Collagen</text>
<text class="p" x="1147" y="1308">Fibronectin</text>
<path d="M1097,1313 V1368 M1155,1316 V1355" stroke="#222" stroke-width="1.5" fill="none"/>
<use href="#dn" x="1037" y="1412"/><text class="p" x="1048.500" y="1412">Attachment</text>
<use href="#dn" x="1330" y="1440"/><text class="p" x="1342.500" y="1440">Traction</text>
<text class="p" x="1320.500" y="1482">forces</text>

<!-- captions -->
<text class="m" x="258" y="1817">Wild type cells</text>
<text class="m" x="1012" y="1817">Integrin</text>
<text x="1160" y="1817" font-size="41" font-family="Liberation Serif">α</text>
<text class="m" x="1185" y="1817">11</text>
<text x="1230" y="1801" font-size="21">–/–</text>
<text class="m" x="1275" y="1817" font-style="italic">//</text>
<text class="m" x="981" y="1867">Syndecan-4</text>
<text x="1206" y="1851" font-size="21">–/–</text>
<text class="m" x="1245" y="1867">cells</text>

<!-- legend -->
<rect x="354" y="1906.500" width="841" height="116" fill="#fff" stroke="#55585a" stroke-width="1.800"/>
<use href="#sy" transform="translate(391,2005) scale(.8)"/>
<text class="l" x="422.500" y="1980">Syndecan-4</text>
<use href="#ia" class="ab" transform="translate(652,1997) scale(.95)"/>
<use href="#ib" class="ap" transform="translate(660,1999) scale(.95)"/>
<text class="l" x="684" y="1980">Integrin</text>
<text x="806" y="1980" font-size="33" font-family="Liberation Serif">α</text>
<text class="l" x="827" y="1980">11</text>
<text x="864" y="1980" font-size="28" font-family="Liberation Serif">β</text>
<text class="l" x="877" y="1980">1</text>
<use href="#ia" class="at" transform="translate(932,2000) scale(.95)"/>
<use href="#ib" class="ap" transform="translate(941,2002) scale(.95)"/>
<text class="l" x="960" y="1980">Other integrins</text>
</svg>
</body></html>
